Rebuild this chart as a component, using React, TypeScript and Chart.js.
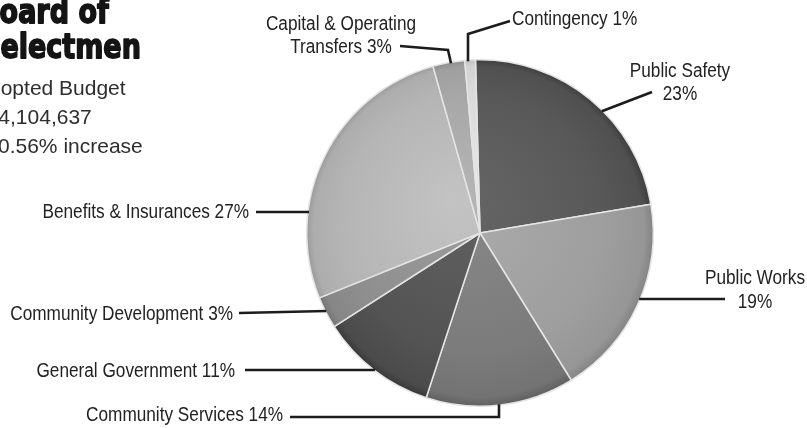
import React, { useEffect, useRef } from 'react';
import { Chart, registerables } from 'chart.js';

Chart.register(...registerables);

// ---------- data ----------
const categories = [
  'Public Safety',
  'Public Works',
  'Community Services',
  'General Government',
  'Community Development',
  'Benefits & Insurances',
  'Capital & Operating Transfers',
  'Contingency',
];
const shares = [23, 19, 14, 11, 3, 27, 3, 1];
const sliceColors = ['#585858', '#9e9e9e', '#7b7b7b', '#535353', '#8e8e8e', '#b5b5b5', '#a7a7a7', '#dadada'];
const titleLines = ['Board of', 'Selectmen'];
const infoLines = ['Adopted Budget', '$14,104,637', '0.56% increase'];

// ---------- helpers ----------
function shade(hex: string, amt: number): string {
  const n = parseInt(hex.slice(1), 16);
  const clamp = (v: number) => Math.max(0, Math.min(255, v));
  const r = clamp(((n >> 16) & 255) + amt);
  const g = clamp(((n >> 8) & 255) + amt);
  const b = clamp((n & 255) + amt);
  return `rgb(${r},${g},${b})`;
}

type Edge = { h?: number; v?: number; a?: number };
type LabelLayout = {
  lines: string[];
  x: number;
  baselines: number[];
  align: CanvasTextAlign;
  path: number[][];
  edge: Edge;
};

const pct = (i: number) => `${shares[i]}%`;
const cotWords = categories[6].split(' ');

const labelLayouts: LabelLayout[] = [
  { lines: [categories[0], pct(0)], x: 680, baselines: [77, 100], align: 'center', path: [[652, 92]], edge: { a: 45 } },
  { lines: [categories[1], pct(1)], x: 755, baselines: [284, 308], align: 'center', path: [[725, 299]], edge: { h: 299 } },
  { lines: [`${categories[2]} ${pct(2)}`], x: 283, baselines: [421], align: 'right', path: [[290, 417], [499, 417]], edge: { v: 499 } },
  { lines: [`${categories[3]} ${pct(3)}`], x: 235, baselines: [377], align: 'right', path: [[245, 370]], edge: { h: 370 } },
  { lines: [`${categories[4]} ${pct(4)}`], x: 233, baselines: [320], align: 'right', path: [[239, 313]], edge: { h: 311 } },
  { lines: [`${categories[5]} ${pct(5)}`], x: 249, baselines: [218], align: 'right', path: [[256, 212]], edge: { h: 212 } },
  {
    lines: [cotWords.slice(0, -1).join(' '), `${cotWords[cotWords.length - 1]} ${pct(6)}`],
    x: 341, baselines: [30, 53], align: 'center', path: [[400, 46], [448, 50]], edge: { v: 451 },
  },
  { lines: [`${categories[7]} ${pct(7)}`], x: 512, baselines: [25], align: 'left', path: [[510, 21], [468, 34]], edge: { v: 468 } },
];

function drawScaled(
  ctx: CanvasRenderingContext2D, text: string, x: number, y: number,
  align: CanvasTextAlign, font: string, color: string, sx: number, sy: number, stroke = 0,
) {
  ctx.save();
  ctx.translate(x, y);
  ctx.scale(sx, sy);
  ctx.font = font;
  ctx.fillStyle = color;
  ctx.textAlign = align;
  ctx.textBaseline = 'alphabetic';
  ctx.fillText(text, 0, 0);
  if (stroke > 0) {
    ctx.strokeStyle = color;
    ctx.lineWidth = stroke;
    ctx.lineJoin = 'round';
    ctx.strokeText(text, 0, 0);
  }
  ctx.restore();
}

export default function App() {
  const ref = useRef<HTMLCanvasElement>(null);

  useEffect(() => {
    const canvas = ref.current;
    if (!canvas) return;

    const labelPlugin = {
      id: 'budgetLabels',
      afterDraw(chart: any) {
        const ctx: CanvasRenderingContext2D = chart.ctx;
        const meta = chart.getDatasetMeta(0);
        const arc = meta.data[0];
        if (!arc) return;
        const { x: cx, y: cy, outerRadius: r } = arc.getProps(['x', 'y', 'outerRadius'], true);

        // title
        titleLines.forEach((t, i) => {
          drawScaled(ctx, t, i === 0 ? -21 : -19, i === 0 ? 23 : 58, 'left',
            'bold 27px "DejaVu Sans"', '#141414', 1, 1.25, 1.4);
        });
        // info
        const infoX = [-25, -25, -2];
        const infoY = [95, 124, 153];
        infoLines.forEach((t, i) => {
          drawScaled(ctx, t, infoX[i], infoY[i], 'left', '21px "Liberation Sans"', '#2e2e2e', 1, 1);
        });

        // labels + leader lines
        labelLayouts.forEach((lay) => {
          lay.lines.forEach((t, j) => {
            drawScaled(ctx, t, lay.x, lay.baselines[j], lay.align, '20px "Liberation Sans"', '#222222', 0.86, 1);
          });
          const pts = lay.path.map((p) => [p[0], p[1]]);
          const last = pts[pts.length - 1];
          let end: number[];
          if (lay.edge.h !== undefined) {
            const dy = lay.edge.h - cy;
            const dx = Math.sqrt(Math.max(r * r - dy * dy, 0));
            end = [last[0] < cx ? cx - dx + 1 : cx + dx - 1, lay.edge.h];
          } else if (lay.edge.v !== undefined) {
            const dx = lay.edge.v - cx;
            const dy = Math.sqrt(Math.max(r * r - dx * dx, 0));
            end = [lay.edge.v, last[1] < cy ? cy - dy + 1 : cy + dy - 1];
          } else {
            const ang = ((lay.edge.a as number) * Math.PI) / 180;
            end = [cx + (r - 1) * Math.sin(ang), cy - (r - 1) * Math.cos(ang)];
          }
          pts.push(end);
          ctx.save();
          ctx.beginPath();
          ctx.moveTo(pts[0][0], pts[0][1]);
          for (let k = 1; k < pts.length; k++) ctx.lineTo(pts[k][0], pts[k][1]);
          ctx.strokeStyle = '#1c1c1c';
          ctx.lineWidth = 2.6;
          ctx.lineJoin = 'miter';
          ctx.lineCap = 'butt';
          ctx.stroke();
          ctx.restore();
        });
      },
    };

    const chart = new Chart(canvas, {
      type: 'pie',
      data: {
        labels: categories,
        datasets: [
          {
            data: shares,
            backgroundColor: (c: any) => {
              const base = sliceColors[c.dataIndex % sliceColors.length];
              const area = c.chart.chartArea;
              if (!area) return base;
              const cx = (area.left + area.right) / 2;
              const cy = (area.top + area.bottom) / 2;
              const rr = Math.min(area.right - area.left, area.bottom - area.top) / 2;
              const g = c.chart.ctx.createRadialGradient(cx - rr * 0.15, cy - rr * 0.2, 0, cx, cy, rr);
              g.addColorStop(0, shade(base, 14));
              g.addColorStop(0.75, base);
              g.addColorStop(0.95, shade(base, -8));
              g.addColorStop(1, shade(base, -28));
              return g;
            },
            borderColor: '#e4e4e4',
            borderWidth: 1.5,
          },
        ],
      },
      options: {
        responsive: false,
        animation: false,
        events: [],
        rotation: -1.5,
        layout: { padding: { left: 306, right: 153, top: 59, bottom: 21 } },
        plugins: {
          legend: { display: false },
          tooltip: { enabled: false },
          title: { display: false },
        },
      },
      plugins: [labelPlugin],
    } as any);

    return () => chart.destroy();
  }, []);

  return (
    <div style={{ position: 'absolute', left: 0, top: 0, width: 807, height: 428, background: '#ffffff', overflow: 'hidden' }}>
      <canvas ref={ref} width={807} height={428} style={{ display: 'block', width: 807, height: 428 }} />
    </div>
  );
}
